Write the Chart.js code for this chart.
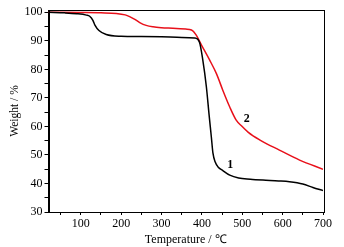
<!DOCTYPE html>
<html><head><meta charset="utf-8">
<script src="https://cdn.jsdelivr.net/npm/chart.js@4"></script>
<style>html,body{margin:0;padding:0;background:#fff}#wrap{width:344px;height:247px}</style>
</head><body><div id="wrap"><canvas id="c" width="344" height="247"></canvas></div>
<script>
const temp1 = [20, 60, 90, 114, 122, 130, 135, 145, 163, 200, 250, 300, 350, 382, 394, 402, 411, 417.5, 423.4, 427.4, 433, 440, 452, 469, 491, 520, 551, 590, 617, 650, 675, 700];
const weight1 = [100, 99.8, 99.5, 99, 98.6, 97.2, 95.5, 93.6, 92.2, 91.6, 91.5, 91.4, 91.2, 91.0, 89.5, 83.5, 74, 64.5, 56.3, 50.6, 47.5, 45.8, 44.5, 42.9, 41.9, 41.5, 41.2, 40.9, 40.6, 39.8, 38.6, 37.5];
const temp2 = [20, 100, 150, 188, 210, 221, 235, 246, 262, 279, 300, 328, 360, 374, 386, 399, 419, 436, 452, 469, 485, 498, 515, 544, 592, 642, 700];
const weight2 = [100, 99.9, 99.8, 99.6, 99.1, 98.5, 97.4, 96.4, 95.4, 94.9, 94.6, 94.4, 94.1, 93.8, 92.0, 88.5, 83.3, 78.5, 72.6, 66.8, 62.2, 60.2, 57.9, 55.2, 51.7, 48.2, 45.0];
const labels = [{t: '1', x: 470, y: 46.4}, {t: '2', x: 511, y: 62.6}];
const xTicks = [100, 200, 300, 400, 500, 600, 700];
const yTicks = [30, 40, 50, 60, 70, 80, 90, 100];

const serif = "'Liberation Serif', 'Times New Roman', serif";
const pts = (xs, ys) => xs.map((x, i) => ({x, y: ys[i]}));

const frame = {
  id: 'frame',
  afterDatasetsDraw(chart) {
    const {ctx, chartArea: a, scales} = chart;
    ctx.save();
    ctx.strokeStyle = '#000';
    ctx.lineWidth = 1;
    ctx.strokeRect(Math.round(a.left) + 0.5, Math.round(a.top) + 0.5, Math.round(a.right - a.left), Math.round(a.bottom - a.top));
    ctx.fillStyle = '#000';
    ctx.font = 'bold 12px ' + serif;
    ctx.textAlign = 'center';
    ctx.textBaseline = 'middle';
    labels.forEach(l => ctx.fillText(l.t, scales.x.getPixelForValue(l.x), scales.y.getPixelForValue(l.y)));
    ctx.restore();
  }
};

function draw() {
new Chart(document.getElementById('c'), {
  type: 'line',
  data: {
    datasets: [
      {data: pts(temp1, weight1), borderColor: '#000', borderWidth: 1.5, pointRadius: 0, cubicInterpolationMode: 'monotone'},
      {data: pts(temp2, weight2), borderColor: '#e8101a', borderWidth: 1.5, pointRadius: 0, cubicInterpolationMode: 'monotone'}
    ]
  },
  options: {
    responsive: false,
    animation: false,
    layout: {padding: {left: 0, top: 10, right: 21, bottom: 0}},
    plugins: {legend: {display: false}, tooltip: {enabled: false}},
    scales: {
      x: {
        type: 'linear', min: 20, max: 700,
        afterBuildTicks: s => { const t = []; for (let v = 50; v <= 700; v += 50) t.push({value: v}); s.ticks = t; },
        afterFit: s => { s.height = 35; },
        ticks: {color: '#000', font: {family: serif, size: 12}, padding: 2, maxRotation: 0, autoSkip: false,
          callback: v => xTicks.includes(v) ? String(v) : ''},
        grid: {drawOnChartArea: false, tickLength: 3, color: '#000', tickColor: '#000'},
        border: {color: '#000'},
        title: {display: true, text: 'Temperature / ℃', color: '#000', font: {family: serif, size: 12}, padding: {top: 0, bottom: 0}}
      },
      y: {
        type: 'linear', min: 30, max: 100.8,
        afterBuildTicks: s => { const t = []; for (let v = 30; v <= 100; v += 5) t.push({value: v}); s.ticks = t; },
        afterFit: s => { s.width = 48.5; },
        ticks: {color: '#000', font: {family: serif, size: 12}, padding: 2, autoSkip: false,
          callback: v => yTicks.includes(v) ? String(v) : ''},
        grid: {drawOnChartArea: false, tickLength: 4, color: '#000', tickColor: '#000'},
        border: {color: '#000'},
        title: {display: true, text: 'Weight / %', color: '#000', font: {family: serif, size: 11.5}, padding: {top: 8, bottom: 0}}
      }
    }
  },
  plugins: [frame]
});
}
Promise.all([
  document.fonts.load("12px 'Liberation Serif'"),
  document.fonts.load("bold 12px 'Liberation Serif'")
]).then(draw, draw);
</script>
</body></html>
